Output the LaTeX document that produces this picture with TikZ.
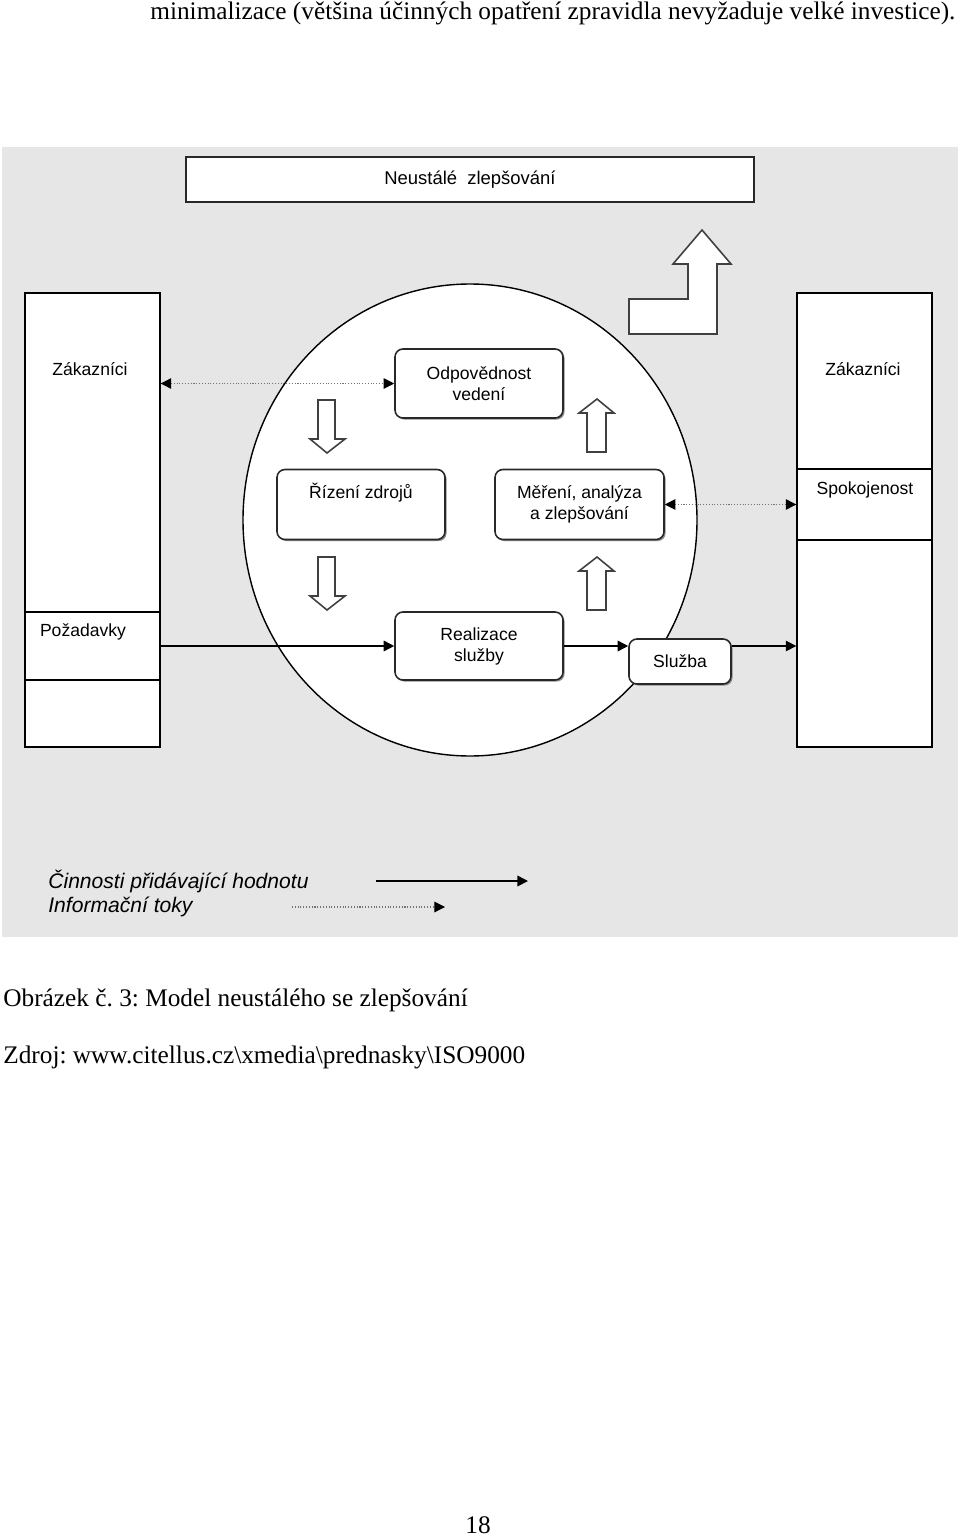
\documentclass[tikz,border=0pt]{standalone}
\usepackage{fontspec}
\setmainfont{Liberation Serif}
\setsansfont{Liberation Sans}
\usetikzlibrary{arrows.meta,shadows}
\definecolor{colBG}{RGB}{230,230,230}
\definecolor{colEdge}{RGB}{40,40,40}
\frenchspacing

\begin{document}
\begin{tikzpicture}[x=0.02cm, y=-0.02cm,
    every node/.style={font=\sffamily\fontsize{10}{12}\selectfont},
    box/.style={draw=colEdge, line width=0.9pt, fill=white, rounded corners=4.5pt,
      align=center, inner sep=0pt, minimum width=3.36cm, minimum height=1.4cm,
      drop shadow={shadow xshift=0.9pt, shadow yshift=-0.9pt, fill=black!45, opacity=1}},
    colpart/.style={draw=black, line width=0.8pt, fill=white, inner sep=0pt, minimum width=2.7cm},
    lbl/.style={inner sep=1pt},
    blk/.style={draw=black!75, line width=0.9pt, fill=white},
    flow/.style={line width=0.9pt, -{Triangle[length=6pt,width=6pt]}},
    info/.style={black!55, densely dotted, line width=0.6pt,
      {Triangle[length=6pt,width=6pt,black]}-{Triangle[length=6pt,width=6pt,black]}},
    serif/.style={font=\rmfamily\fontsize{14.4}{16}\selectfont, inner sep=0pt}]
  \useasboundingbox (0,0) rectangle (960,1537);
  % running text above the figure
  \node[serif, anchor=west] (txtTop) at (150,13) {minimalizace (většina účinných opatření zpravidla nevyžaduje velké investice).};
  % grey panel
  \fill[colBG] (2,147) rectangle (958,937);
  % heading
  \node[draw=colEdge, line width=0.9pt, fill=white, minimum width=11.36cm, minimum height=0.9cm,
    font=\sffamily\fontsize{10.5}{12}\selectfont] (zlep) at (470,179.5) {Neustálé\ \ zlepšování};
  % stepped arrow up to the heading
  \draw[blk] (629,299) -- (688,299) -- (688,264) -- (673,264) -- (702,230) -- (731,264)
    -- (717,264) -- (717,334) -- (629,334) -- cycle;
  % customer columns
  \node[colpart, minimum height=6.38cm] (zakL) at (92.5,452.5) {};
  \node[colpart, minimum height=1.36cm] (pozL) at (92.5,646) {};
  \node[colpart, minimum height=1.34cm] (dolL) at (92.5,713.5) {};
  \node[colpart, minimum height=3.52cm] (zakR) at (864.5,381) {};
  \node[colpart, minimum height=1.42cm] (spokR) at (864.5,504.5) {};
  \node[colpart, minimum height=4.14cm] (dolR) at (864.5,643.5) {};
  \node[lbl] (zakLtxt) at (90,369) {Zákazníci};
  \node[lbl] (pozLtxt) at (83,632) {Požadavky};
  \node[lbl] (zakRtxt) at (863,369) {Zákazníci};
  \node[lbl] (spokRtxt) at (865,490) {Spokojenost};
  % process circle
  \draw[line width=0.8pt, fill=white] (470,520) ellipse [x radius=227, y radius=236];
  % process boxes
  \node[box, minimum height=1.38cm] (odp) at (479,383.5) {Odpovědnost\\vedení};
  \node[box] (riz) at (361,504.5) {Řízení zdrojů\\\strut};
  \node[box, minimum width=3.38cm] (mer) at (579.5,504.5) {Měření, analýza\\a zlepšování};
  \node[box, minimum height=1.36cm] (real) at (479,646) {Realizace\\služby};
  \node[box, minimum width=2.04cm, minimum height=0.9cm] (sluz) at (680,661.5) {Služba};
  % block arrows of the cycle
  \foreach \y in {400,557}
    \draw[blk] (318,\y) -- (335,\y) -- (335,\y+39) -- (345,\y+39) -- (327,\y+53)
      -- (310,\y+39) -- (318,\y+39) -- cycle;
  \foreach \y in {399,557}
    \draw[blk] (597,\y) -- (614,\y+14) -- (606,\y+14) -- (606,\y+53) -- (587,\y+53)
      -- (587,\y+14) -- (579,\y+14) -- cycle;
  % information flows
  \draw[info] (odp.west -| zakL.east) -- (odp.west);
  \draw[info] (mer.east) -- (mer.east -| spokR.west);
  % value adding flows
  \draw[flow] (pozL.east) -- (real.west);
  \draw[flow] (real.east) -- (real.east -| sluz.west);
  \draw[flow] (real.east -| sluz.east) -- (real.east -| dolR.west);
  % legend
  \node[anchor=west, inner sep=0pt, font=\sffamily\itshape\fontsize{12}{14}\selectfont] (legA) at (48,881) {Činnosti přidávající hodnotu};
  \node[anchor=west, inner sep=0pt, font=\sffamily\itshape\fontsize{12}{14}\selectfont] (legB) at (48,907) {Informační toky};
  \coordinate (legA1) at (376,881);
  \coordinate (legA2) at (528,881);
  \coordinate (legB1) at (292,907);
  \coordinate (legB2) at (445,907);
  \draw[flow] (legA1) -- (legA2);
  \draw[black!55, densely dotted, line width=0.6pt, -{Triangle[length=6pt,width=6pt,black]}] (legB1) -- (legB2);
  % caption and page number
  \node[serif, anchor=west] (capt) at (3,1000) {Obrázek č. 3: Model neustálého se zlepšování};
  \node[serif, anchor=west] (zdroj) at (3,1057) {Zdroj: www.citellus.cz\textbackslash xmedia\textbackslash prednasky\textbackslash ISO9000};
  \node[serif] (pagenum) at (478,1525) {18};
\end{tikzpicture}
\end{document}
